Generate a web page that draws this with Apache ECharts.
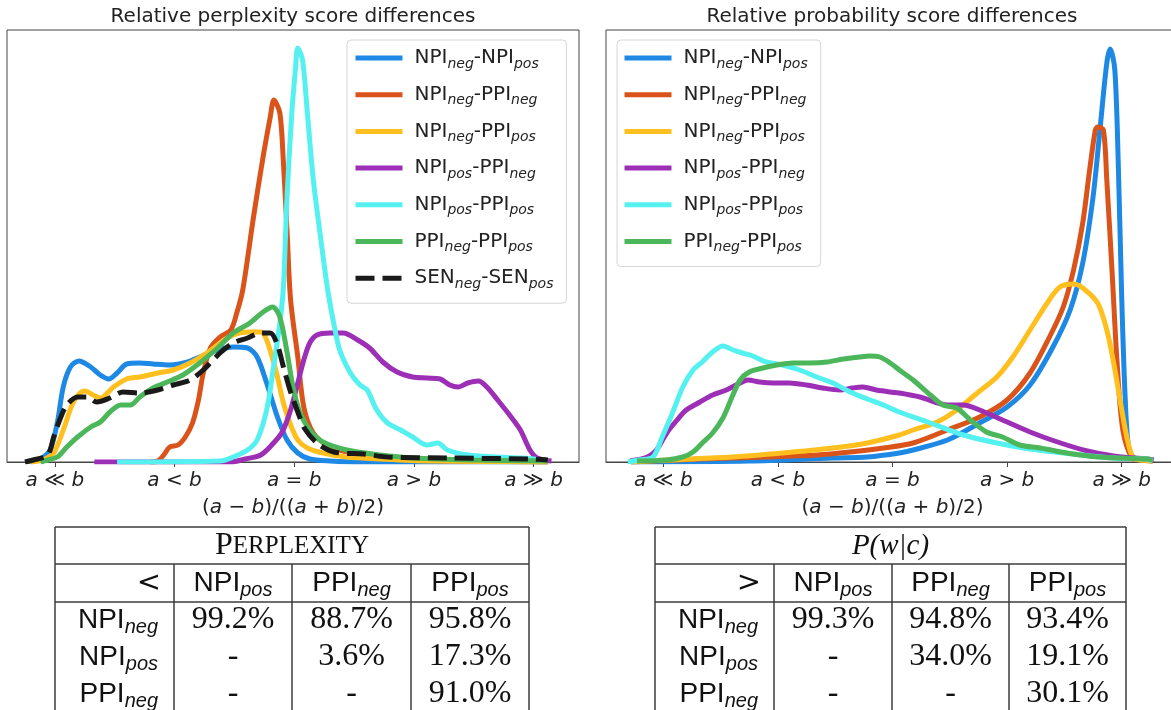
<!DOCTYPE html>
<html>
<head>
<meta charset="utf-8">
<script src="https://cdn.jsdelivr.net/npm/echarts@6/dist/echarts.min.js"></script>
<style>
  html, body { margin: 0; padding: 0; background: #fff; }
  #chart { width: 1171px; height: 710px; }
</style>
</head>
<body>
<div id="chart"></div>
<script>
// series names (upper case part = main text, lower case part = subscript)
const seriesNames = ['NPIneg-NPIpos', 'NPIneg-PPIneg', 'NPIneg-PPIpos', 'NPIpos-PPIneg', 'NPIpos-PPIpos', 'PPIneg-PPIpos', 'SENneg-SENpos'];
const lineColors = ['#1E88E5', '#DA531B', '#FFC01F', '#9C2FB6', '#55F0F0', '#4CB75A', '#1a1a1a'];

// x ticks: (a-b)/((a+b)/2)
const tickValues = [-2, -1, 0, 1, 2];
const tickLabels = ['a ≪ b', 'a < b', 'a = b', 'a > b', 'a ≫ b'];
const axisTitle = '(a − b)/((a + b)/2)';

// relative perplexity score differences (density)
const perpNpiNegNpiPos = [[-2.2,0],[-2.12,0.03],[-2.04,0.12],[-1.98,0.39],[-1.93,0.75],[-1.87,0.95],[-1.80,1.01],[-1.70,0.95],[-1.62,0.87],[-1.55,0.83],[-1.48,0.89],[-1.40,0.98],[-1.29,0.99],[-1.18,0.98],[-1.04,0.97],[-0.89,1.00],[-0.79,1.05],[-0.64,1.12],[-0.51,1.15],[-0.39,1.14],[-0.31,1.05],[-0.23,0.79],[-0.14,0.45],[-0.06,0.22],[0.03,0.09],[0.13,0.03],[0.30,0.01],[0.55,0],[2.12,0]];
const perpNpiNegPpiNeg = [[-1.20,0],[-1.14,0.01],[-1.09,0.07],[-1.04,0.15],[-0.97,0.17],[-0.91,0.25],[-0.85,0.39],[-0.80,0.62],[-0.76,0.89],[-0.70,1.14],[-0.62,1.25],[-0.53,1.32],[-0.48,1.49],[-0.43,1.72],[-0.34,2.45],[-0.26,3.05],[-0.20,3.45],[-0.17,3.62],[-0.12,3.49],[-0.09,2.99],[-0.06,2.32],[-0.03,1.62],[0.03,1.05],[0.08,0.55],[0.16,0.29],[0.30,0.15],[0.49,0.09],[0.72,0.05],[1.05,0.02],[1.47,0.01],[2.12,0]];
const perpNpiNegPpiPos = [[-2.2,0],[-2.10,0.02],[-2.01,0.09],[-1.93,0.32],[-1.85,0.59],[-1.79,0.69],[-1.75,0.71],[-1.68,0.67],[-1.62,0.64],[-1.51,0.75],[-1.40,0.83],[-1.29,0.85],[-1.14,0.89],[-1.01,0.92],[-0.87,0.99],[-0.73,1.09],[-0.62,1.19],[-0.51,1.27],[-0.39,1.30],[-0.28,1.30],[-0.23,1.22],[-0.15,0.90],[-0.09,0.59],[-0.03,0.37],[0.03,0.22],[0.11,0.14],[0.24,0.09],[0.44,0.05],[0.72,0.03],[1.14,0.01],[2.12,0]];
const perpNpiPosPpiNeg = [[-1.67,0],[-0.53,0],[-0.41,0.03],[-0.28,0.07],[-0.18,0.18],[-0.10,0.30],[-0.03,0.52],[0.03,0.79],[0.08,1.02],[0.13,1.19],[0.19,1.27],[0.30,1.29],[0.41,1.29],[0.53,1.22],[0.63,1.14],[0.74,1.00],[0.86,0.90],[0.99,0.85],[1.11,0.84],[1.22,0.83],[1.30,0.77],[1.37,0.75],[1.45,0.79],[1.54,0.81],[1.61,0.75],[1.70,0.62],[1.80,0.47],[1.89,0.32],[1.97,0.12],[2.03,0.04],[2.15,0.01]];
const perpNpiPosPpiPos = [[-1.48,0],[-0.62,0.01],[-0.51,0.05],[-0.39,0.12],[-0.31,0.22],[-0.23,0.52],[-0.18,0.89],[-0.12,1.39],[-0.09,1.75],[-0.06,2.65],[-0.02,3.49],[0.01,3.92],[0.03,4.14],[0.07,4.02],[0.11,3.49],[0.16,2.82],[0.22,2.25],[0.28,1.72],[0.33,1.39],[0.38,1.12],[0.47,0.89],[0.55,0.77],[0.61,0.72],[0.69,0.52],[0.78,0.39],[0.89,0.32],[0.99,0.25],[1.11,0.17],[1.20,0.19],[1.28,0.12],[1.45,0.07],[1.70,0.05],[1.89,0.04],[2.08,0.02],[2.12,0.01]];
const perpPpiNegPpiPos = [[-2.12,0],[-2.06,0.02],[-1.98,0.05],[-1.90,0.15],[-1.81,0.25],[-1.70,0.35],[-1.62,0.40],[-1.54,0.50],[-1.45,0.57],[-1.37,0.57],[-1.29,0.65],[-1.18,0.74],[-1.06,0.80],[-0.93,0.87],[-0.79,0.99],[-0.64,1.14],[-0.51,1.29],[-0.37,1.39],[-0.26,1.50],[-0.18,1.55],[-0.12,1.45],[-0.06,1.10],[-0.01,0.75],[0.05,0.49],[0.13,0.32],[0.24,0.20],[0.44,0.12],[0.72,0.07],[0.99,0.04],[1.47,0.02],[2.12,0.01]];
const perpSenNegSenPos = [[-2.25,0],[-2.18,0.02],[-2.06,0.07],[-2.01,0.25],[-1.95,0.45],[-1.90,0.57],[-1.81,0.65],[-1.73,0.65],[-1.65,0.60],[-1.54,0.64],[-1.43,0.70],[-1.29,0.69],[-1.14,0.72],[-1.01,0.77],[-0.87,0.82],[-0.76,0.92],[-0.62,1.09],[-0.51,1.19],[-0.39,1.24],[-0.28,1.29],[-0.20,1.29],[-0.14,1.17],[-0.09,0.95],[-0.03,0.70],[0.03,0.50],[0.09,0.33],[0.19,0.19],[0.33,0.10],[0.58,0.08],[0.78,0.05],[1.28,0.04],[1.97,0.03],[2.12,0.02]];

// relative probability score differences
const probNpiNegNpiPos = [[-2.28,0],[-1.25,0.01],[-0.52,0.04],[-0.22,0.05],[0.06,0.09],[0.18,0.12],[0.48,0.22],[0.76,0.39],[1.00,0.55],[1.20,0.77],[1.40,1.15],[1.55,1.52],[1.66,1.99],[1.75,2.65],[1.81,3.32],[1.87,3.99],[1.90,4.13],[1.94,3.92],[1.97,2.99],[2.00,1.65],[2.03,0.65],[2.06,0.15],[2.11,0.04],[2.22,0.02],[2.27,0.01]];
const probNpiNegPpiNeg = [[-2.28,0],[-1.68,0.03],[-1.10,0.05],[-0.66,0.07],[-0.37,0.10],[-0.08,0.14],[0.18,0.19],[0.48,0.32],[0.76,0.45],[1.00,0.62],[1.20,0.89],[1.37,1.25],[1.49,1.55],[1.58,1.92],[1.66,2.39],[1.72,2.92],[1.77,3.32],[1.79,3.35],[1.84,3.32],[1.87,2.82],[1.92,1.82],[1.96,0.99],[2.01,0.32],[2.09,0.04],[2.16,0.02],[2.27,0.01]];
const probNpiNegPpiPos = [[-2.28,0],[-1.97,0.02],[-1.40,0.05],[-0.96,0.09],[-0.52,0.14],[-0.22,0.19],[0.06,0.27],[0.18,0.32],[0.39,0.40],[0.56,0.52],[0.74,0.69],[0.91,0.85],[1.05,1.05],[1.20,1.32],[1.35,1.59],[1.46,1.75],[1.58,1.78],[1.66,1.74],[1.79,1.59],[1.87,1.32],[1.93,0.99],[1.99,0.59],[2.05,0.22],[2.10,0.04],[2.16,0.02],[2.27,0.01]];
const probNpiPosPpiNeg = [[-2.29,0.01],[-2.14,0.05],[-2.06,0.12],[-1.97,0.29],[-1.88,0.42],[-1.80,0.52],[-1.68,0.60],[-1.57,0.67],[-1.45,0.72],[-1.33,0.79],[-1.26,0.82],[-1.16,0.80],[-1.04,0.79],[-0.90,0.79],[-0.75,0.77],[-0.61,0.74],[-0.46,0.72],[-0.35,0.74],[-0.26,0.75],[-0.14,0.72],[-0.02,0.70],[0.06,0.69],[0.24,0.65],[0.48,0.57],[0.62,0.57],[0.76,0.52],[0.96,0.42],[1.20,0.30],[1.44,0.20],[1.70,0.11],[1.93,0.06],[2.22,0.03],[2.28,0.02]];
const probNpiPosPpiPos = [[-2.31,0],[-2.21,0.02],[-2.09,0.05],[-2.01,0.25],[-1.92,0.49],[-1.83,0.75],[-1.74,0.92],[-1.66,1.00],[-1.57,1.10],[-1.48,1.16],[-1.39,1.12],[-1.31,1.09],[-1.22,1.06],[-1.10,1.00],[-0.96,0.97],[-0.81,0.92],[-0.66,0.85],[-0.52,0.79],[-0.37,0.70],[-0.22,0.63],[-0.08,0.57],[0.06,0.50],[0.33,0.39],[0.62,0.27],[0.91,0.19],[1.20,0.13],[1.49,0.09],[1.93,0.04],[2.22,0.03],[2.27,0.01]];
const probPpiNegPpiPos = [[-2.23,0.01],[-1.97,0.02],[-1.83,0.05],[-1.74,0.10],[-1.66,0.19],[-1.57,0.29],[-1.48,0.44],[-1.40,0.65],[-1.33,0.82],[-1.25,0.90],[-1.13,0.94],[-1.01,0.97],[-0.87,0.99],[-0.72,0.99],[-0.57,1.00],[-0.43,1.03],[-0.29,1.05],[-0.20,1.06],[-0.11,1.05],[-0.02,0.99],[0.06,0.92],[0.18,0.82],[0.33,0.67],[0.44,0.57],[0.56,0.54],[0.68,0.42],[0.82,0.30],[0.96,0.25],[1.11,0.17],[1.29,0.14],[1.52,0.09],[1.79,0.05],[2.22,0.03],[2.27,0.02]];

// tables below the plots
const tableCols = ['NPIpos', 'PPIneg', 'PPIpos'];
const tableRows = ['NPIneg', 'NPIpos', 'PPIneg'];
const perpTable = [['99.2%', '88.7%', '95.8%'], ['-', '3.6%', '17.3%'], ['-', '-', '91.0%']];
const probTable = [['99.3%', '94.8%', '93.4%'], ['-', '34.0%', '19.1%'], ['-', '-', '30.1%']];

const perpData = [perpNpiNegNpiPos, perpNpiNegPpiNeg, perpNpiNegPpiPos, perpNpiPosPpiNeg, perpNpiPosPpiPos, perpPpiNegPpiPos, perpSenNegSenPos];
const probData = [probNpiNegNpiPos, probNpiNegPpiNeg, probNpiNegPpiPos, probNpiPosPpiNeg, probNpiPosPpiPos, probPpiNegPpiPos];

const FONT = 'DejaVu Sans';
const INK = '#222';
const DASH = [19, 8];

// 'NPIneg-PPIpos' -> rich text with subscripts
function subText(name, m, s, first) {
  return name.split('-').map((part, i) => {
    const r = part.match(/^([A-Z]+)([a-z]+)$/);
    const mm = (i === 0 && first) ? first : m;
    return '{' + mm + '|' + r[1] + '}{' + s + '|' + r[2] + '}';
  }).join('{' + m + '|-}');
}
function mathText(str) {
  return str.replace(/([ab])/g, '{i|$1}');
}

const mathRich = { i: { fontFamily: FONT, fontStyle: 'italic', fontSize: 20, color: INK } };

function makeXAxis(gridIndex, min, max) {
  return {
    type: 'value', gridIndex: gridIndex, min: min, max: max,
    axisLine: { show: true, onZero: false, lineStyle: { color: '#444', width: 1 } },
    axisTick: { show: true, customValues: tickValues, length: 5, lineStyle: { color: '#444', width: 1 } },
    axisLabel: {
      customValues: tickValues, margin: 9,
      fontFamily: FONT, fontSize: 20, color: INK,
      formatter: v => mathText(tickLabels[tickValues.indexOf(Math.round(v))] || ''),
      rich: mathRich
    },
    splitLine: { show: false },
    name: mathText(axisTitle), nameLocation: 'middle', nameGap: 36,
    nameTextStyle: { fontFamily: FONT, fontSize: 20, color: INK, rich: mathRich }
  };
}
function makeYAxis(gridIndex) {
  return {
    type: 'value', gridIndex: gridIndex, min: 0, max: 4.32,
    axisLine: { show: false }, axisTick: { show: false }, axisLabel: { show: false }, splitLine: { show: false }
  };
}

const legendRich = {
  n: { fontFamily: FONT, fontSize: 20, color: INK, lineHeight: 24 },
  f: { fontFamily: FONT, fontSize: 20, color: INK, lineHeight: 24, padding: [0, 0, 0, 7] },
  s: { fontFamily: FONT, fontSize: 14, fontStyle: 'italic', color: INK, lineHeight: 24, padding: [12, 0, 0, 0] }
};
function makeLegend(names, left, padding) {
  return {
    data: names.map(n => n.indexOf('SEN') === 0 ? { name: n, lineStyle: { type: DASH } } : n),
    orient: 'vertical', left: left, top: 40,
    itemWidth: 47, itemHeight: 12, itemGap: 10.7,
    padding: padding,
    backgroundColor: 'rgba(255,255,255,0.8)', borderColor: '#d6d6d6', borderWidth: 1, borderRadius: 4,
    selectedMode: false,
    itemStyle: { opacity: 0, borderWidth: 0 },
    lineStyle: { width: 5 },
    formatter: name => subText(name, 'n', 's', 'f'),
    textStyle: { rich: legendRich }
  };
}

const series = [];
perpData.forEach((d, i) => {
  series.push({
    name: seriesNames[i], type: 'line', xAxisIndex: 0, yAxisIndex: 0, data: d,
    symbol: 'none', smooth: 0.3, animation: false,
    lineStyle: { color: lineColors[i], width: 5, type: i === 6 ? DASH : 'solid' },
    itemStyle: { color: lineColors[i] }
  });
});
probData.forEach((d, i) => {
  series.push({
    name: seriesNames[i], type: 'line', xAxisIndex: 1, yAxisIndex: 1, data: d,
    symbol: 'none', smooth: 0.3, animation: false,
    lineStyle: { color: lineColors[i], width: 5 },
    itemStyle: { color: lineColors[i] }
  });
});

// tables drawn with graphic elements
const tableRich = {
  m: { fontFamily: 'Liberation Sans', fontSize: 28, fill: '#111', lineHeight: 32 },
  s: { fontFamily: 'Liberation Sans', fontSize: 20, fontStyle: 'italic', fill: '#111', lineHeight: 32, padding: [14, 0, 0, 0] }
};
function makeTable(x0, x1, cols, title, corner, vals) {
  const els = [];
  const stroke = { stroke: '#3c3c3c', lineWidth: 1.5 };
  const yTop = 527, yH1 = 564, yH2 = 602, yBot = 715;
  const hl = y => ({ type: 'line', shape: { x1: x0, y1: y, x2: x1, y2: y }, style: stroke, silent: true });
  const vl = (x, ya) => ({ type: 'line', shape: { x1: x, y1: ya, x2: x, y2: yBot }, style: stroke, silent: true });
  els.push(hl(yTop), hl(yH1), hl(yH2), vl(x0, yTop), vl(x1, yTop));
  cols.forEach(c => els.push(vl(c, yH1)));
  els.push({ type: 'text', x: (x0 + x1) / 2, y: 546, silent: true, style: Object.assign({ align: 'center', verticalAlign: 'middle' }, title) });
  els.push({ type: 'text', x: cols[0] - 13, y: 583, silent: true,
    style: { text: corner, align: 'right', verticalAlign: 'middle', fontFamily: 'DejaVu Sans', fontSize: 29, fill: '#111' } });
  const edges = cols.concat([x1]);
  const centers = [0, 1, 2].map(k => (edges[k] + edges[k + 1]) / 2);
  tableCols.forEach((c, k) => {
    els.push({ type: 'text', x: centers[k], y: 583, silent: true,
      style: { text: subText(c, 'm', 's'), rich: tableRich, align: 'center', verticalAlign: 'middle' } });
  });
  const rowY = [620, 657, 694];
  tableRows.forEach((r, j) => {
    els.push({ type: 'text', x: cols[0] - 16, y: rowY[j], silent: true,
      style: { text: subText(r, 'm', 's'), rich: tableRich, align: 'right', verticalAlign: 'middle' } });
    vals[j].forEach((v, k) => {
      els.push({ type: 'text', x: centers[k], y: rowY[j], silent: true,
        style: { text: v, align: 'center', verticalAlign: 'middle', fontFamily: 'Liberation Serif', fontSize: 32, fill: '#111' } });
    });
  });
  return els;
}

const chart = echarts.init(document.getElementById('chart'), null, { renderer: 'canvas' });
chart.setOption({
  backgroundColor: '#fff',
  animation: false,
  title: [
    { text: 'Relative perplexity score differences', left: 293, top: 7, textAlign: 'center', padding: 0,
      textStyle: { fontFamily: FONT, fontSize: 20, fontWeight: 'normal', color: INK } },
    { text: 'Relative probability score differences', left: 892, top: 7, textAlign: 'center', padding: 0,
      textStyle: { fontFamily: FONT, fontSize: 20, fontWeight: 'normal', color: INK } }
  ],
  grid: [
    { left: 7, top: 30, width: 572, height: 432, show: true, borderColor: '#444', borderWidth: 1,
      backgroundColor: 'transparent', outerBoundsMode: 'none' },
    { left: 606, top: 30, width: 573, height: 432, show: true, borderColor: '#444', borderWidth: 1,
      backgroundColor: 'transparent', outerBoundsMode: 'none' }
  ],
  xAxis: [makeXAxis(0, -2.4, 2.38), makeXAxis(1, -2.5, 2.5)],
  yAxis: [makeYAxis(0), makeYAxis(1)],
  legend: [
    makeLegend(seriesNames, 347, [5, 13, 12, 6]),
    makeLegend(seriesNames.slice(0, 6), 617, [5, 13, 12, 5])
  ],
  series: series,
  graphic: makeTable(55, 529, [174, 292, 411],
      { text: '{a|P}{b|ERPLEXITY}', rich: {
          a: { fontFamily: 'Liberation Serif', fontSize: 32, fill: '#111' },
          b: { fontFamily: 'Liberation Serif', fontSize: 25, fill: '#111' } } },
      '<', perpTable)
    .concat(makeTable(655, 1126, [774, 892, 1009],
      { text: 'P(w|c)', fontFamily: 'Liberation Serif', fontStyle: 'italic', fontSize: 29, fill: '#111' },
      '>', probTable))
});
</script>
</body>
</html>
